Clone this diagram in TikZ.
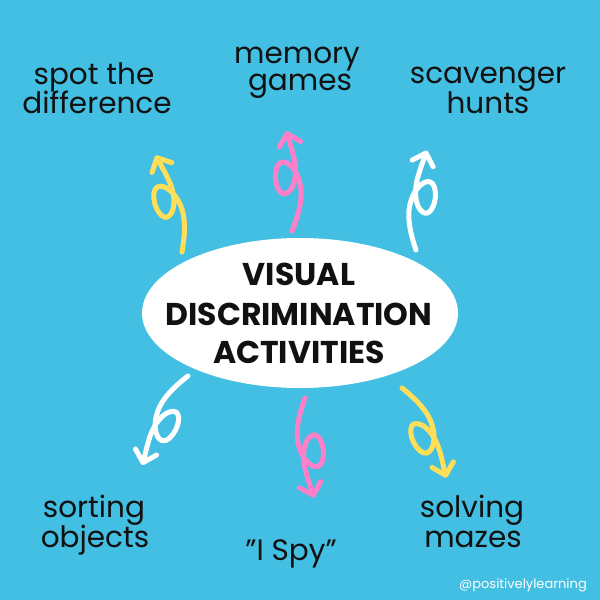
\documentclass[tikz,border=0pt]{standalone}
\usepackage{fontspec}
\setmainfont{Poppins}
\usetikzlibrary{arrows.meta,shapes.geometric}
\definecolor{bg}{HTML}{42BFE2}
\definecolor{ylw}{HTML}{FFDE59}
\definecolor{pnk}{HTML}{FF80C8}
\definecolor{ink}{HTML}{111111}
\tikzset{
  lbl/.style={anchor=base, text=ink, inner sep=0pt, font=\fontsize{29.5}{31}\selectfont},
  head/.style={anchor=base, text=ink, inner sep=0pt, font=\bfseries\fontsize{31.5}{33}\selectfont},
  curly/.pic={
    \draw[line width=5pt, line cap=round, line join=round,
          -{Straight Barb[length=11pt,width=22pt,round]}]
      (0,0) .. controls (8,18) and (13,35) .. (9,50)
      .. controls (5,66) and (-8,76) .. (-13,64)
      .. controls (-18,50) and (-11,34) .. (-4,38)
      .. controls (4,42) and (7,56) .. (5,70)
      .. controls (3,82) and (0,91) .. (-2,100);
  }
}
\begin{document}
\begin{tikzpicture}[x=1pt,y=1pt]
\useasboundingbox (0,0) rectangle (600,-600);
\fill[bg] (0,0) rectangle (600,-600);

\node (hub) [ellipse, fill=white, inner sep=0pt, minimum width=316pt, minimum height=150pt] at (300,-313) {};
\node (h1) [head] at (299,-285) {VISUAL};
\node (h2) [head] at (299,-325) {DISCRIMINATION};
\node (h3) [head] at (299,-363) {ACTIVITIES};

\node (a1) [lbl] at (94,-84) {spot the};
\node (a2) [lbl] at (97,-113) {difference};
\node (b1) [lbl] at (297,-63) {memory};
\node (b2) [lbl] at (300,-90) {games};
\node (c1) [lbl] at (488,-83) {scavenger};
\node (c2) [lbl] at (488,-113) {hunts};
\node (d1) [lbl] at (94,-517) {sorting};
\node (d2) [lbl] at (95,-547) {objects};
\node (e1) [lbl] at (291,-560) {"I Spy"};
\node (f1) [lbl] at (472,-517) {solving};
\node (f2) [lbl] at (473,-547) {mazes};

\node (tag) [anchor=base east, text=white, inner sep=0pt, font=\fontsize{13}{15}\selectfont] at (587,-588) {@positivelylearning};

\coordinate (t1) at (182,-252);
\coordinate (t2) at (292,-231);
\coordinate (t3) at (416,-250);
\coordinate (t4) at (188,-376);
\coordinate (t5) at (305,-398);
\coordinate (t6) at (402,-388);

\pic[color=ylw, rotate=14] at (t1) {curly};
\pic[color=pnk, rotate=2] at (t2) {curly};
\pic[color=white, rotate=-5, xscale=-1] at (t3) {curly};
\pic[color=white, rotate=151.7] at (t4) {curly};
\pic[color=pnk, rotate=-176] at (t5) {curly};
\pic[color=ylw, rotate=-152.6, xscale=-1] at (t6) {curly};
\end{tikzpicture}
\end{document}
